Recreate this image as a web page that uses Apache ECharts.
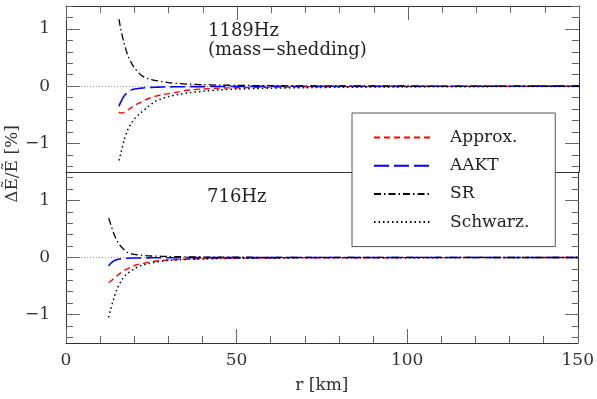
<!DOCTYPE html>
<html>
<head>
<meta charset="utf-8">
<script src="https://cdn.jsdelivr.net/npm/echarts@6/dist/echarts.min.js"></script>
<style>
  html, body { margin: 0; padding: 0; background: #fff; }
  #main { width: 597px; height: 399px; }
</style>
</head>
<body>
<div id="main"></div>
<script>
// 上图 1189Hz (mass-shedding)
const rTop = [15.5, 16, 17, 18, 19, 20, 22, 24, 26, 28, 30, 33, 36, 40, 45, 50, 60, 70, 80, 100, 120, 150];
const approxTop = [-0.45, -0.47, -0.46, -0.42, -0.38, -0.34, -0.28, -0.22, -0.18, -0.15, -0.13, -0.1, -0.068, -0.05, -0.035, -0.028, -0.018, -0.012, -0.009, -0.006, -0.003, -0.002];
const aaktTop = [-0.35, -0.28, -0.17, -0.11, -0.07, -0.05, -0.035, -0.025, -0.02, -0.016, -0.013, -0.011, -0.009, -0.008, -0.006, -0.005, -0.003, -0.002, -0.002, -0.001, -0.001, 0];
const srTop = [1.17, 1.0, 0.75, 0.55, 0.42, 0.32, 0.19, 0.13, 0.1, 0.08, 0.06, 0.045, 0.035, 0.025, 0.018, 0.013, 0.008, 0.005, 0.004, 0.002, 0.001, 0];
const schwTop = [-1.3, -1.18, -0.95, -0.77, -0.66, -0.57, -0.46, -0.36, -0.27, -0.22, -0.18, -0.145, -0.115, -0.09, -0.065, -0.05, -0.035, -0.027, -0.02, -0.013, -0.009, -0.006];

// 下图 716Hz
const rBot = [12.5, 13, 14, 15, 16, 17, 18, 20, 22, 24, 26, 28, 30, 33, 36, 40, 45, 50, 60, 70, 80, 100, 120, 150];
const approxBot = [-0.44, -0.42, -0.37, -0.32, -0.27, -0.23, -0.2, -0.14, -0.11, -0.085, -0.065, -0.052, -0.043, -0.034, -0.027, -0.02, -0.015, -0.012, -0.008, -0.006, -0.004, -0.003, -0.002, -0.001];
const aaktBot = [-0.15, -0.11, -0.06, -0.035, -0.025, -0.018, -0.014, -0.01, -0.008, -0.006, -0.005, -0.0045, -0.004, -0.0035, -0.003, -0.003, -0.0025, -0.002, -0.0015, -0.001, -0.001, -0.001, 0, 0];
const srBot = [0.69, 0.6, 0.42, 0.29, 0.2, 0.14, 0.09, 0.055, 0.04, 0.03, 0.025, 0.021, 0.018, 0.014, 0.011, 0.008, 0.006, 0.005, 0.003, 0.002, 0.0015, 0.001, 0.0005, 0];
const schwBot = [-1.05, -0.93, -0.72, -0.55, -0.43, -0.34, -0.28, -0.2, -0.14, -0.11, -0.085, -0.065, -0.05, -0.04, -0.032, -0.025, -0.018, -0.014, -0.009, -0.006, -0.005, -0.003, -0.002, -0.001];

const legendNames = ['Approx.', 'AAKT', 'SR', 'Schwarz.'];

const FONT = 'DejaVu Serif';
const zip = (xs, ys) => xs.map((x, i) => [x, ys[i]]);

// 面板位置
const L = 66, R = 18;
const panels = [
    { top: 6, height: 166, min: -1.5, max: 1.4 },
    { top: 172, height: 171, min: -1.5, max: 1.5 }
];

const styles = {
    'Approx.': { color: '#ff0000', width: 1.4, type: [6, 4] },
    'AAKT': { color: '#0000ff', width: 1.6, type: [15, 5] },
    'SR': { color: '#000000', width: 1.3, type: [7, 3, 1.5, 3] },
    'Schwarz.': { color: '#000000', width: 1.5, type: [1.5, 3] }
};

const mkSeries = (name, xi, yi, data) => {
    const st = styles[name];
    const s = {
        name, type: 'line', xAxisIndex: xi, yAxisIndex: yi,
        data, showSymbol: false, symbol: 'none', smooth: 0.3,
        color: st.color,
        lineStyle: { color: st.color, width: st.width, type: st.type },
        z: 3
    };
    if (name === 'Approx.') {
        s.markLine = {
            silent: true, symbol: 'none', label: { show: false },
            lineStyle: { color: '#888', width: 0.8, type: [1, 2] },
            data: [{ yAxis: 0 }],
            z: 1
        };
    }
    return s;
};

const axisCol = '#333';
const tickCol = '#666';

// 子网格：只用来画刻度，与面板同一比例
const tickGrid = (p, lo, hi) => {
    const k = p.height / (p.max - p.min);
    return { left: L, right: R, top: p.top + (p.max - hi) * k, height: (hi - lo) * k };
};

const grids = [
    { left: L, right: R, top: panels[0].top, height: panels[0].height },
    { left: L, right: R, top: panels[1].top, height: panels[1].height },
    tickGrid(panels[0], -1, 1),
    tickGrid(panels[0], -1.4, 1.4),
    tickGrid(panels[1], -1, 1),
    tickGrid(panels[1], -1.4, 1.4)
];

const xBase = (grid, pos, step, len, opts) => Object.assign({
    type: 'value', gridIndex: grid, position: pos, min: 0, max: 150, interval: step,
    axisLine: { show: true, onZero: false, lineStyle: { color: axisCol, width: 1 } },
    axisTick: { show: len > 0, inside: true, length: len, lineStyle: { color: tickCol } },
    axisLabel: { show: false },
    splitLine: { show: false }
}, opts || {});

const xAxes = [
    xBase(0, 'bottom', 50, 0),
    xBase(0, 'top', 50, 14),
    xBase(1, 'bottom', 50, 14, {
        name: 'r [km]', nameLocation: 'middle', nameGap: 34,
        nameTextStyle: { fontFamily: FONT, fontSize: 17, color: '#333' },
        axisLabel: { show: true, margin: 9, color: '#333', fontFamily: FONT, fontSize: 17 }
    }),
    ...[2, 3, 4, 5].map(g => ({ type: 'value', gridIndex: g, min: 0, max: 150, show: false })),
    xBase(0, 'top', 10, 7, { axisLine: { show: false, onZero: false } }),
    xBase(1, 'bottom', 10, 7, { axisLine: { show: false, onZero: false } })
];

const yLine = (grid, pos, p) => ({
    type: 'value', gridIndex: grid, position: pos, min: p.min, max: p.max,
    axisLine: { show: true, onZero: false, lineStyle: { color: axisCol, width: 1 } },
    axisTick: { show: false }, axisLabel: { show: false }, splitLine: { show: false }
});

const yTicks = (grid, pos, lo, hi, step, len, labels) => ({
    type: 'value', gridIndex: grid, position: pos, min: lo, max: hi, interval: step,
    axisLine: { show: false, onZero: false },
    axisTick: { show: true, inside: true, length: len, lineStyle: { color: tickCol } },
    axisLabel: labels ? {
        show: true, margin: 16, color: '#333', fontFamily: FONT, fontSize: 17,
        formatter: v => String(v).replace('-', '\u2212')
    } : { show: false },
    splitLine: { show: false }
});

const yAxes = [
    yLine(0, 'left', panels[0]), yLine(1, 'left', panels[1]),
    yLine(0, 'right', panels[0]), yLine(1, 'right', panels[1]),
    yTicks(2, 'left', -1, 1, 1, 14, true), yTicks(2, 'right', -1, 1, 1, 14, false),
    yTicks(3, 'left', -1.4, 1.4, 0.2, 7, false), yTicks(3, 'right', -1.4, 1.4, 0.2, 7, false),
    yTicks(4, 'left', -1, 1, 1, 14, true), yTicks(4, 'right', -1, 1, 1, 14, false),
    yTicks(5, 'left', -1.4, 1.4, 0.2, 7, false), yTicks(5, 'right', -1.4, 1.4, 0.2, 7, false)
];

const chart = echarts.init(document.getElementById('main'));
chart.setOption({
    backgroundColor: '#fff',
    animation: false,
    grid: grids,
    xAxis: xAxes,
    yAxis: yAxes,
    legend: {
        orient: 'vertical', left: 352, top: 113,
        data: legendNames,
        itemWidth: 57, itemHeight: 14, itemGap: 11.2,
        padding: [16, 26, 16, 21],
        backgroundColor: '#fff', borderColor: '#555', borderWidth: 1,
        itemStyle: { opacity: 0 },
        textStyle: { fontFamily: FONT, fontSize: 17, color: '#222', padding: [0, 0, 0, 14] },
        z: 10
    },
    graphic: [
        { type: 'text', left: 208, top: 22, style: { text: '1189Hz', font: '18px "DejaVu Serif"', fill: '#222' } },
        { type: 'text', left: 208, top: 41, style: { text: '(mass\u2212shedding)', font: '18px "DejaVu Serif"', fill: '#222' } },
        { type: 'text', left: 207, top: 188, style: { text: '716Hz', font: '18px "DejaVu Serif"', fill: '#222' } },
        {
            type: 'text', x: 13, y: 164, rotation: Math.PI / 2,
            style: { text: '\u0394\u1EBC/\u1EBC [%]', font: '17px "DejaVu Serif"', fill: '#333', align: 'center', verticalAlign: 'middle' }
        }
    ],
    series: [
        mkSeries('Approx.', 0, 0, zip(rTop, approxTop)),
        mkSeries('AAKT', 0, 0, zip(rTop, aaktTop)),
        mkSeries('SR', 0, 0, zip(rTop, srTop)),
        mkSeries('Schwarz.', 0, 0, zip(rTop, schwTop)),
        mkSeries('Approx.', 2, 1, zip(rBot, approxBot)),
        mkSeries('AAKT', 2, 1, zip(rBot, aaktBot)),
        mkSeries('SR', 2, 1, zip(rBot, srBot)),
        mkSeries('Schwarz.', 2, 1, zip(rBot, schwBot))
    ]
});
</script>
</body>
</html>
